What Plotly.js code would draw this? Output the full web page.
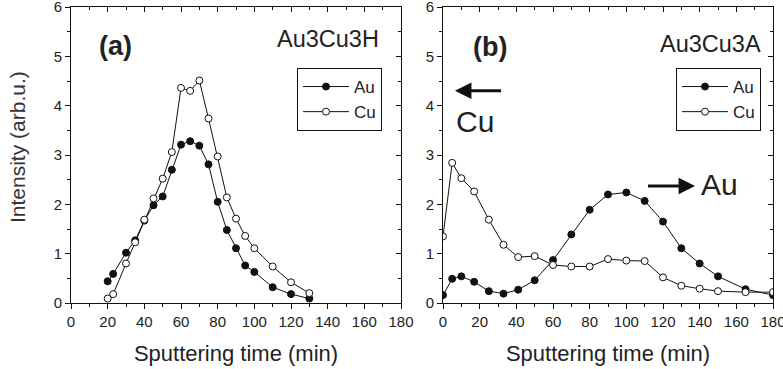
<!DOCTYPE html>
<html>
<head>
<meta charset="utf-8">
<script src="https://cdn.plot.ly/plotly-3.0.1.min.js"></script>
<style>html,body{margin:0;padding:0;background:#fff;}#chart{width:783px;height:369px;}</style>
</head>
<body>
<div id="chart"></div>
<script>
// ---- data ----
const seriesNames = ['Au', 'Cu'];
const aTime = [20, 23, 30, 35, 40, 45, 50, 55, 60, 65, 70, 75, 80, 85, 90, 95, 100, 110, 120, 130];
const aAu   = [0.44, 0.59, 1.02, 1.27, 1.67, 1.98, 2.16, 2.70, 3.21, 3.28, 3.19, 2.81, 2.05, 1.48, 1.11, 0.76, 0.63, 0.32, 0.18, 0.09];
const aCu   = [0.09, 0.18, 0.80, 1.23, 1.69, 2.12, 2.52, 3.06, 4.36, 4.30, 4.51, 3.74, 2.97, 2.14, 1.71, 1.36, 1.11, 0.74, 0.42, 0.20];
const bTime = [0, 5, 10, 17, 25, 33, 41, 50, 60, 70, 80, 90, 100, 110, 120, 130, 140, 150, 165, 180];
const bAu   = [0.16, 0.49, 0.54, 0.43, 0.24, 0.19, 0.27, 0.46, 0.87, 1.39, 1.89, 2.20, 2.24, 2.07, 1.65, 1.11, 0.80, 0.54, 0.28, 0.16];
const bCu   = [1.35, 2.84, 2.53, 2.26, 1.69, 1.18, 0.93, 0.95, 0.77, 0.74, 0.74, 0.89, 0.86, 0.85, 0.52, 0.35, 0.29, 0.24, 0.22, 0.22];
const xTicks = [0, 20, 40, 60, 80, 100, 120, 140, 160, 180];
const yTicks = [0, 1, 2, 3, 4, 5, 6];
const panelLabels = ['(a)', '(b)'];
const sampleNames = ['Au3Cu3H', 'Au3Cu3A'];
const xTitle = 'Sputtering time (min)';
const yTitle = 'Intensity (arb.u.)';

const FONT = 'Liberation Sans, Arial, sans-serif';
const INK = '#111';

function mk(x, y, filled, xa, ya, name, leg) {
  return {
    type: 'scatter', mode: 'lines+markers', x: x, y: y, name: name,
    xaxis: xa, yaxis: ya, legend: leg, cliponaxis: true,
    line: {color: INK, width: 1},
    marker: {symbol: 'circle', size: 7, color: filled ? INK : '#fff', line: {color: INK, width: 1}}
  };
}
// empty carrier traces so the mirrored (inward-tick) frame axes get drawn
function frame(xa, ya) {
  return {type: 'scatter', mode: 'markers', x: [], y: [], xaxis: xa, yaxis: ya, showlegend: false, hoverinfo: 'skip'};
}

const traces = [
  mk(aTime, aAu, true, 'x', 'y', seriesNames[0], 'legend'),
  mk(aTime, aCu, false, 'x', 'y', seriesNames[1], 'legend'),
  mk(bTime, bAu, true, 'x2', 'y2', seriesNames[0], 'legend2'),
  mk(bTime, bCu, false, 'x2', 'y2', seriesNames[1], 'legend2'),
  frame('x3', 'y3'),
  frame('x4', 'y4')
];

const W = 783, H = 369;
const domA = [71 / W, 401 / W];
const domB = [443 / W, 773 / W];
const domY = [66 / H, 362 / H];

function xMain(dom, anchor) {
  return {
    domain: dom, anchor: anchor, range: [0, 180], tickvals: xTicks, ticktext: xTicks.map(String),
    ticks: 'outside', ticklen: 5, tickwidth: 1, tickcolor: INK, ticklabeloverflow: 'allow',
    minor: {dtick: 10, tick0: 0, ticks: 'outside', ticklen: 3, tickcolor: INK, showgrid: false},
    showline: true, linecolor: INK, linewidth: 1, showgrid: false, zeroline: false,
    tickfont: {family: FONT, size: 15, color: '#222'},
    title: {text: xTitle, font: {family: FONT, size: 22, color: '#222'}, standoff: 16},
    fixedrange: true
  };
}
function xMirror(dom, overlay, anchor) {
  return {
    domain: dom, overlaying: overlay, anchor: anchor, side: 'top', range: [0, 180], tickvals: xTicks,
    showticklabels: false, ticks: 'inside', ticklen: 5, tickwidth: 1, tickcolor: INK,
    minor: {dtick: 10, tick0: 0, ticks: 'inside', ticklen: 3, tickcolor: INK, showgrid: false},
    showline: true, linecolor: INK, linewidth: 1, showgrid: false, zeroline: false, fixedrange: true
  };
}
function yMain(anchor) {
  return {
    domain: domY, anchor: anchor, range: [0, 6], tickvals: yTicks, ticktext: yTicks.map(String),
    ticks: 'outside', ticklen: 5, tickwidth: 1, tickcolor: INK, ticklabeloverflow: 'allow',
    minor: {dtick: 0.5, tick0: 0, ticks: 'outside', ticklen: 3, tickcolor: INK, showgrid: false},
    showline: true, linecolor: INK, linewidth: 1, showgrid: false, zeroline: false,
    tickfont: {family: FONT, size: 15, color: '#222'}, fixedrange: true
  };
}
function yMirror(overlay, anchor) {
  return {
    domain: domY, overlaying: overlay, anchor: anchor, side: 'right', range: [0, 6], tickvals: yTicks,
    showticklabels: false, ticks: 'inside', ticklen: 5, tickwidth: 1, tickcolor: INK,
    minor: {dtick: 0.5, tick0: 0, ticks: 'inside', ticklen: 3, tickcolor: INK, showgrid: false},
    showline: true, linecolor: INK, linewidth: 1, showgrid: false, zeroline: false, fixedrange: true
  };
}

function legendAt(xpx, ypx) {
  return {
    x: xpx / W, y: 1 - ypx / H, xanchor: 'left', yanchor: 'top', xref: 'paper', yref: 'paper',
    bgcolor: '#fff', bordercolor: INK, borderwidth: 1, itemwidth: 46,
    font: {family: FONT, size: 17, color: '#222'}, tracegroupgap: 0
  };
}

function note(xpx, ypx, text, size, xanchor, extra) {
  return Object.assign({xref: 'paper', yref: 'paper', x: xpx / W, y: 1 - ypx / H, text: text,
    xanchor: xanchor || 'center', yanchor: 'middle', showarrow: false,
    font: {family: FONT, size: size, color: '#222'}}, extra || {});
}

const annotations = [
  note(115, 46, '<b>' + panelLabels[0] + '</b>', 27),
  note(490, 47, '<b>' + panelLabels[1] + '</b>', 27),
  note(381, 39, sampleNames[0], 23.5, 'right'),
  note(763, 44, sampleNames[1], 23.5, 'right'),
  note(17, 147, yTitle, 21, 'center', {textangle: -90, font: {family: FONT, size: 21, color: '#333'}}),
  // arrows and labels in panel (b)
  {xref: 'x2', yref: 'y2', axref: 'x2', ayref: 'y2', x: 6.5, y: 4.30, ax: 32.5, ay: 4.30, text: '',
   showarrow: true, arrowhead: 2, arrowsize: 1.1, arrowwidth: 3, arrowcolor: INK, standoff: 0, startstandoff: 0},
  {xref: 'x2', yref: 'y2', x: 17.5, y: 3.68, text: 'Cu', showarrow: false,
   font: {family: FONT, size: 30, color: '#222'}},
  {xref: 'x2', yref: 'y2', axref: 'x2', ayref: 'y2', x: 137.5, y: 2.37, ax: 111, ay: 2.37, text: '',
   showarrow: true, arrowhead: 2, arrowsize: 1.1, arrowwidth: 3, arrowcolor: INK, standoff: 0, startstandoff: 0},
  {xref: 'x2', yref: 'y2', x: 151, y: 2.40, text: 'Au', showarrow: false,
   font: {family: FONT, size: 30, color: '#222'}}
];

const layout = {
  width: W, height: H, margin: {l: 0, r: 0, t: 0, b: 0, pad: 0},
  paper_bgcolor: '#fff', plot_bgcolor: '#fff',
  font: {family: FONT, color: '#222'},
  showlegend: true,
  xaxis: xMain(domA, 'y'),
  yaxis: yMain('x'),
  xaxis2: xMain(domB, 'y2'),
  yaxis2: yMain('x2'),
  xaxis3: xMirror(domA, 'x', 'y3'),
  yaxis3: yMirror('y', 'x3'),
  xaxis4: xMirror(domB, 'x2', 'y4'),
  yaxis4: yMirror('y2', 'x4'),
  legend: legendAt(297, 68),
  legend2: legendAt(676, 68),
  annotations: annotations
};

Plotly.newPlot('chart', traces, layout, {displayModeBar: false, staticPlot: true});
</script>
</body>
</html>
